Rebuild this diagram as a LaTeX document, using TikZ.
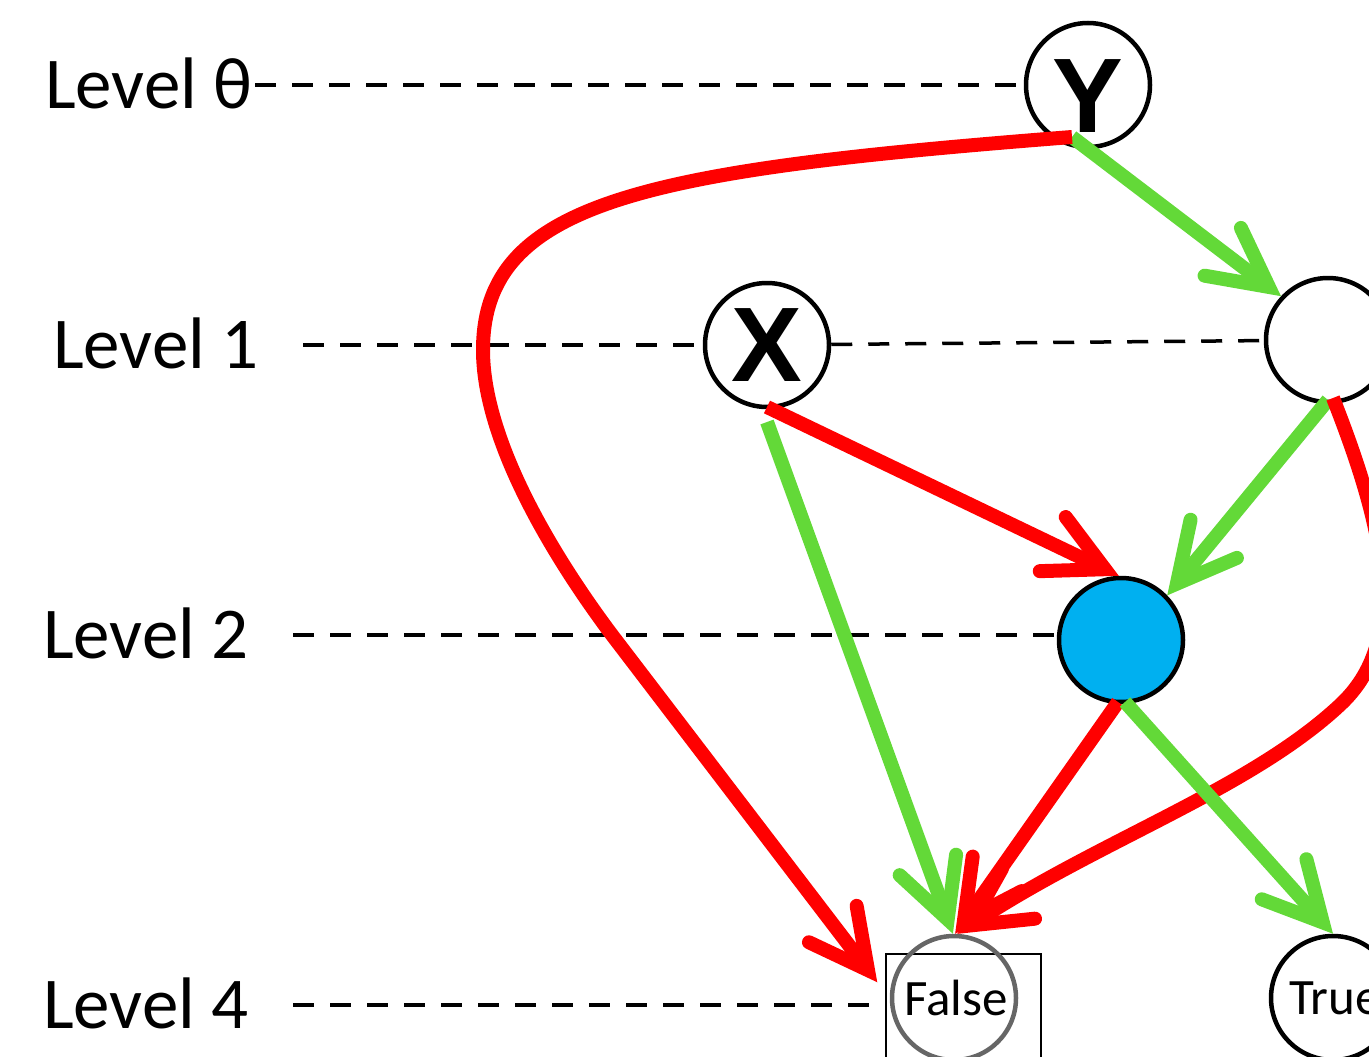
\documentclass[tikz,border=0pt]{standalone}
\usepackage{fontspec}
\setmainfont{Carlito}
\newfontfamily\boldsans{Liberation Sans}
\usetikzlibrary{arrows.meta,calc}
\definecolor{gr}{RGB}{99,217,56}
\definecolor{rd}{RGB}{255,0,0}
\definecolor{bl}{RGB}{0,176,240}
\definecolor{gy}{RGB}{102,102,102}
\begin{document}
\begin{tikzpicture}[x=1pt,y=-1pt,
  circ/.style={circle, draw=black, line width=4.5pt, minimum size=124pt, inner sep=0pt, fill=white},
  lvl/.style={anchor=base west, inner sep=0pt, font=\fontsize{73}{73}\selectfont},
  lvline/.style={draw=black, line width=3.5pt, dash pattern=on 21pt off 16pt},
  barbtip/.style={-{Straight Barb[length=58pt,width=60pt,line cap=round]}},
  gedge/.style={draw=gr, line width=14pt, barbtip},
  redge/.style={draw=rd, line width=14pt, barbtip},
  bigletter/.style={font=\boldsans\bfseries\fontsize{106}{106}\selectfont},
  smalltext/.style={font=\fontsize{51}{51}\selectfont}
]
\useasboundingbox (0,0) rectangle (1369,1057);
\clip (0,0) rectangle (1369,1057);
% level labels
\node[lvl] (l0) at (45,108) {Level θ};
\node[lvl] (l1) at (53,368) {Level 1};
\node[lvl] (l2) at (43,658) {Level 2};
\node[lvl] (l4) at (43,1028) {Level 4};
% nodes
\node[circ, bigletter, text height=94pt, text depth=0pt] (Y) at (1088,85) {Y};
\node[circ, bigletter] (X) at (767,345) {X};
\node[circ] (n1) at (1328,340) {};
\node[circ, fill=bl] (blue) at (1121,640) {};
\node[draw=black, line width=1.5pt, minimum width=155pt, minimum height=140pt, inner sep=0pt] (fb) at (963.5,1024) {};
\node[circ, draw=gy, fill=none, smalltext] (F) at (954,998) {\hspace{4pt}False};
\node[circ, smalltext] (T) at (1333,998) {\hspace{4pt}True};
% dashed level lines
\coordinate (d0) at (255,85);
\coordinate (d1) at (303,345);
\coordinate (d2) at (293,635);
\coordinate (d4) at (293,1005);
\draw[lvline] (d0) -- (Y);
\draw[lvline] (d1) -- (X);
\draw[lvline] (X) -- (n1);
\draw[lvline] (d2) -- (blue.west |- d2);
\draw[lvline] (d4) -- (d4 -| fb.west);
% connectors
\coordinate (ys) at ($(Y.center)+(-16,52)$);
\draw[gedge] (ys) -- (n1.137);
\draw[redge] (ys) .. controls (650,170) and (483,200) .. (483,350)
  .. controls (483,440) and (552,555) .. (612,635)
  -- ([xshift=-8pt,yshift=-29pt]fb.north west);
\draw[redge] ($(X.center)+(0,62)$) -- (blue.92);
\draw[gedge] ($(X.center)+(0,77)$) -- (F.91);
\draw[gedge] ($(n1.center)+(0,60)$) -- (blue.44);
\draw[redge] ($(n1.center)+(5,58)$) .. controls (1385,530) and (1410,640) .. (1340,705)
  .. controls (1250,789) and (1100,840) .. (F.87);
\draw[redge] ($(blue.center)+(-3,62)$) -- (F.89);
\draw[gedge] ($(blue.center)+(4,62)$) -- (T.90);
\end{tikzpicture}
\end{document}
